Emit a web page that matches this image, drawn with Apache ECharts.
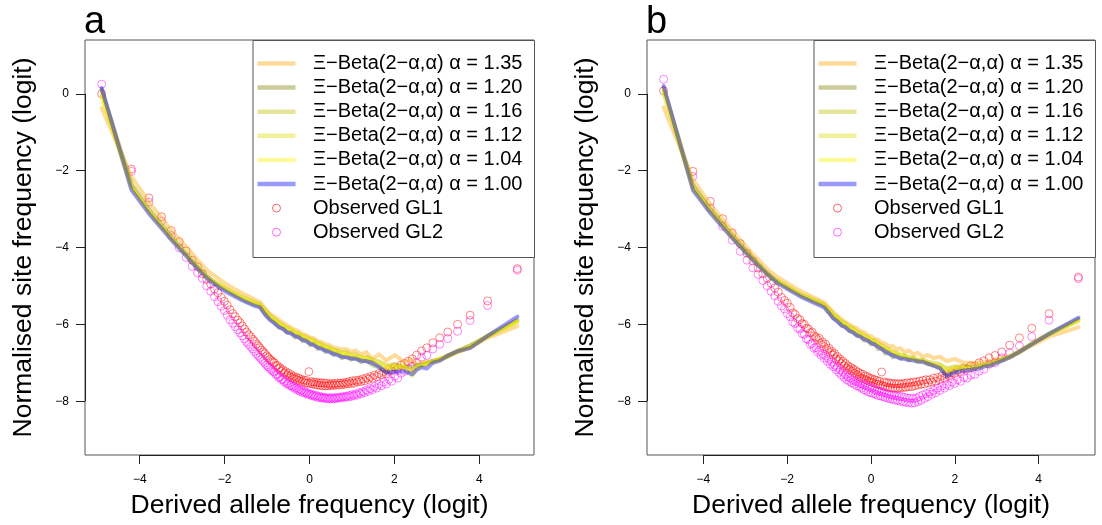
<!DOCTYPE html>
<html><head><meta charset="utf-8">
<script src="https://cdn.jsdelivr.net/npm/echarts@6/dist/echarts.min.js"></script>
<style>html,body{margin:0;padding:0;background:#fff}#c{width:1102px;height:525px}</style>
</head><body><div id="c"></div>
<script>
// ---- data ----
const sampleSizeA = 135;
const sampleSizeB = 142;
const panelLabels = ['a', 'b'];
const alphaLabels = ['1.35', '1.20', '1.16', '1.12', '1.04', '1.00'];
const xTicks = [-4, -2, 0, 2, 4];
const yTicks = [0, -2, -4, -6, -8];
const xTitle = 'Derived allele frequency (logit)';
const yTitle = 'Normalised site frequency (logit)';

// observed, one value per derived-allele count 1..n-1
const obsGL1_A = [
 0.00,-1.96,-2.71,-3.20,-3.56,-3.85,-4.09,-4.33,-4.50,-4.68,
 -4.83,-4.95,-5.08,-5.18,-5.30,-5.40,-5.50,-5.62,-5.72,-5.80,
 -5.89,-5.96,-6.04,-6.12,-6.20,-6.27,-6.32,-6.39,-6.44,-6.51,
 -6.56,-6.61,-6.67,-6.72,-6.76,-6.82,-6.86,-6.91,-6.94,-6.98,
 -7.00,-7.08,-7.07,-7.15,-7.13,-7.22,-7.18,-7.27,-7.23,-7.32,
 -7.27,-7.36,-7.31,-7.39,-7.35,-7.42,-7.38,-7.45,-7.40,-7.48,
 -7.43,-7.50,-7.45,-7.52,-7.46,-7.53,-7.23,-7.54,-7.49,-7.55,
 -7.50,-7.57,-7.51,-7.58,-7.52,-7.59,-7.52,-7.60,-7.53,-7.60,
 -7.53,-7.60,-7.55,-7.59,-7.54,-7.59,-7.54,-7.58,-7.53,-7.58,
 -7.53,-7.57,-7.52,-7.56,-7.51,-7.55,-7.49,-7.54,-7.47,-7.53,
 -7.46,-7.50,-7.45,-7.49,-7.42,-7.47,-7.39,-7.43,-7.36,-7.40,
 -7.32,-7.36,-7.28,-7.31,-7.23,-7.29,-7.18,-7.21,-7.11,-7.14,
 -7.06,-7.02,-6.96,-6.90,-6.80,-6.69,-6.61,-6.48,-6.35,-6.20,
 -6.00,-5.76,-5.39,-4.55];
const obsGL2_A = [
 0.25,-2.02,-2.82,-3.31,-3.69,-4.01,-4.26,-4.49,-4.66,-4.80,
 -5.00,-5.14,-5.28,-5.41,-5.53,-5.64,-5.76,-5.88,-5.97,-6.06,
 -6.14,-6.22,-6.30,-6.38,-6.46,-6.52,-6.58,-6.64,-6.70,-6.76,
 -6.81,-6.86,-6.91,-6.96,-7.01,-7.06,-7.10,-7.14,-7.18,-7.22,
 -7.24,-7.30,-7.31,-7.38,-7.37,-7.44,-7.43,-7.50,-7.48,-7.55,
 -7.53,-7.59,-7.58,-7.63,-7.61,-7.67,-7.65,-7.71,-7.68,-7.74,
 -7.71,-7.77,-7.74,-7.79,-7.77,-7.82,-7.79,-7.84,-7.82,-7.86,
 -7.84,-7.88,-7.85,-7.90,-7.87,-7.91,-7.89,-7.92,-7.90,-7.93,
 -7.91,-7.94,-7.91,-7.94,-7.91,-7.94,-7.91,-7.93,-7.90,-7.92,
 -7.89,-7.91,-7.88,-7.90,-7.87,-7.89,-7.85,-7.88,-7.83,-7.86,
 -7.81,-7.84,-7.78,-7.81,-7.75,-7.78,-7.71,-7.74,-7.67,-7.70,
 -7.62,-7.66,-7.56,-7.60,-7.50,-7.55,-7.43,-7.48,-7.35,-7.40,
 -7.27,-7.22,-7.16,-7.10,-7.00,-6.86,-6.81,-6.64,-6.52,-6.37,
 -6.18,-5.90,-5.51,-4.59];
const obsGL1_B = [
 0.08,-2.02,-2.80,-3.25,-3.62,-3.90,-4.15,-4.35,-4.53,-4.68,
 -4.80,-4.93,-5.05,-5.16,-5.30,-5.38,-5.45,-5.56,-5.70,-5.74,
 -5.85,-5.88,-5.98,-6.00,-6.10,-6.12,-6.22,-6.20,-6.30,-6.33,
 -6.40,-6.36,-6.50,-6.46,-6.58,-6.52,-6.66,-6.62,-6.74,-6.70,
 -6.80,-6.76,-6.90,-6.84,-6.95,-6.90,-7.02,-6.96,-7.08,-7.02,
 -7.14,-7.08,-7.18,-7.12,-7.22,-7.16,-7.27,-7.20,-7.32,-7.24,
 -7.36,-7.28,-7.40,-7.30,-7.42,-7.34,-7.45,-7.36,-7.48,-7.40,
 -7.50,-7.42,-7.52,-7.44,-7.55,-7.46,-7.56,-7.48,-7.58,-7.24,
 -7.60,-7.50,-7.62,-7.52,-7.64,-7.52,-7.65,-7.54,-7.66,-7.54,
 -7.66,-7.55,-7.66,-7.54,-7.65,-7.55,-7.64,-7.54,-7.64,-7.52,
 -7.62,-7.52,-7.62,-7.50,-7.60,-7.50,-7.58,-7.48,-7.56,-7.46,
 -7.55,-7.44,-7.52,-7.44,-7.50,-7.40,-7.48,-7.38,-7.44,-7.34,
 -7.40,-7.30,-7.34,-7.26,-7.28,-7.20,-7.24,-7.15,-7.16,-7.08,
 -7.08,-7.00,-6.95,-6.87,-6.81,-6.72,-6.54,-6.35,-6.10,-5.72,
 -4.77];
const obsGL2_B = [
 0.38,-2.15,-2.97,-3.45,-3.81,-4.10,-4.33,-4.53,-4.70,-4.86,
 -5.00,-5.14,-5.26,-5.40,-5.52,-5.60,-5.72,-5.80,-5.94,-5.98,
 -6.10,-6.12,-6.24,-6.26,-6.38,-6.40,-6.52,-6.50,-6.62,-6.60,
 -6.72,-6.68,-6.80,-6.76,-6.88,-6.82,-6.96,-6.90,-7.04,-6.98,
 -7.10,-7.06,-7.18,-7.12,-7.25,-7.18,-7.32,-7.24,-7.38,-7.30,
 -7.44,-7.36,-7.48,-7.40,-7.52,-7.44,-7.56,-7.48,-7.60,-7.50,
 -7.62,-7.54,-7.66,-7.56,-7.70,-7.58,-7.72,-7.62,-7.76,-7.64,
 -7.78,-7.66,-7.80,-7.70,-7.82,-7.72,-7.85,-7.74,-7.86,-7.76,
 -7.88,-7.78,-7.90,-7.80,-7.92,-7.82,-7.94,-7.84,-7.95,-7.85,
 -7.97,-7.86,-7.98,-7.88,-8.00,-7.88,-8.02,-7.90,-8.03,-7.92,
 -8.04,-7.92,-8.05,-7.93,-8.04,-7.92,-8.01,-7.88,-7.98,-7.84,
 -7.93,-7.80,-7.88,-7.76,-7.82,-7.72,-7.78,-7.66,-7.72,-7.60,
 -7.66,-7.56,-7.60,-7.50,-7.54,-7.44,-7.48,-7.38,-7.40,-7.32,
 -7.30,-7.22,-7.17,-7.04,-7.00,-6.87,-6.75,-6.56,-6.32,-5.89,
 -4.81];

// model expectations at selected derived-allele counts
const modelCountsA = [1,2,3,4,5,6,7,8,9,10,11,12,
 14,17,20,23,26,29,32,35,38,41,44,47,50,53,56,59,62,65,68,71,74,77,80,83,86,89,92,95,98,101,104,107,110,113,116,119,122,
 124,125,126,127,128,129,130,131,132,133,134];
const modelA_135 = [-0.37,-2.15,-2.82,-3.22,-3.55,-3.78,-3.98,-4.16,-4.32,-4.46,-4.58,-4.67,
 -4.80,-4.97,-5.09,-5.19,-5.27,-5.35,-5.42,-5.58,-5.72,-5.80,-5.88,-5.96,-6.02,-6.08,-6.14,-6.18,-6.26,-6.28,-6.34,-6.36,-6.44,-6.46,-6.52,-6.54,-6.60,-6.62,-6.66,-6.64,-6.72,-6.68,-6.78,-6.72,-6.90,-6.78,-6.94,-6.80,-6.98,
 -6.92,-7.05,-6.98,-6.98,-6.95,-6.90,-6.82,-6.72,-6.60,-6.35,-6.05];
const modelA_120 = [0.12,-2.35,-3.00,-3.40,-3.71,-3.95,-4.15,-4.33,-4.49,-4.62,-4.74,-4.83,
 -4.97,-5.12,-5.24,-5.34,-5.43,-5.48,-5.53,-5.72,-5.86,-5.95,-6.08,-6.10,-6.22,-6.20,-6.34,-6.30,-6.44,-6.40,-6.54,-6.50,-6.64,-6.58,-6.72,-6.66,-6.80,-6.74,-6.88,-6.82,-6.92,-6.86,-6.98,-6.94,-7.06,-7.12,-7.24,-7.14,-7.10,
 -7.12,-7.05,-7.06,-7.02,-6.95,-6.92,-6.82,-6.70,-6.55,-6.30,-5.88];
const modelA_116 = [0.05,-2.38,-3.03,-3.43,-3.73,-3.97,-4.16,-4.34,-4.50,-4.63,-4.75,-4.84,
 -4.94,-5.08,-5.20,-5.29,-5.36,-5.42,-5.48,-5.62,-5.76,-5.86,-5.94,-6.02,-6.08,-6.14,-6.20,-6.24,-6.30,-6.34,-6.38,-6.42,-6.48,-6.52,-6.58,-6.60,-6.66,-6.68,-6.74,-6.72,-6.80,-6.78,-6.86,-6.84,-6.92,-6.96,-7.06,-7.04,-7.08,
 -7.20,-7.10,-7.05,-7.00,-6.96,-6.90,-6.80,-6.68,-6.55,-6.30,-5.92];
const modelA_112 = [-0.05,-2.42,-3.06,-3.45,-3.76,-3.99,-4.18,-4.36,-4.51,-4.64,-4.76,-4.85,
 -4.95,-5.09,-5.21,-5.30,-5.37,-5.44,-5.49,-5.64,-5.78,-5.87,-5.96,-6.04,-6.09,-6.16,-6.21,-6.26,-6.31,-6.36,-6.40,-6.44,-6.50,-6.54,-6.58,-6.62,-6.66,-6.71,-6.74,-6.76,-6.80,-6.82,-6.88,-6.86,-6.94,-7.00,-7.10,-7.06,-7.14,
 -7.34,-7.15,-7.08,-7.02,-6.98,-6.92,-6.84,-6.70,-6.58,-6.32,-5.94];
const modelA_104 = [-0.10,-2.45,-3.08,-3.47,-3.78,-4.01,-4.20,-4.38,-4.53,-4.66,-4.78,-4.87,
 -4.96,-5.11,-5.22,-5.32,-5.39,-5.46,-5.51,-5.66,-5.80,-5.89,-5.98,-6.04,-6.11,-6.16,-6.22,-6.26,-6.32,-6.36,-6.42,-6.46,-6.51,-6.56,-6.60,-6.64,-6.68,-6.72,-6.76,-6.78,-6.82,-6.84,-6.88,-6.90,-6.96,-7.02,-7.14,-7.12,-7.11,
 -7.22,-7.12,-7.08,-7.05,-6.98,-6.92,-6.84,-6.72,-6.60,-6.30,-5.92];
const modelA_100 = [0.15,-2.50,-3.12,-3.50,-3.80,-4.03,-4.22,-4.40,-4.55,-4.68,-4.80,-4.88,
 -5.02,-5.17,-5.28,-5.38,-5.45,-5.52,-5.56,-5.74,-5.88,-5.97,-6.06,-6.12,-6.20,-6.24,-6.30,-6.34,-6.40,-6.44,-6.50,-6.54,-6.60,-6.64,-6.68,-6.72,-6.76,-6.80,-6.84,-6.86,-6.88,-6.90,-6.94,-6.96,-7.00,-7.10,-7.26,-7.24,-7.22,
 -7.30,-7.18,-7.12,-7.15,-7.00,-6.95,-6.82,-6.70,-6.62,-6.30,-5.80];

const modelCountsB = [1,2,3,4,5,6,7,8,9,10,11,12,
 14,17,20,23,26,29,32,35,38,41,44,47,50,53,56,59,62,65,68,71,74,77,80,83,86,89,92,95,98,101,104,107,110,113,116,119,122,125,128,
 130,131,132,133,134,135,136,137,138,139,140,141];
const modelB_135 = [-0.35,-2.23,-2.88,-3.26,-3.57,-3.80,-4.00,-4.17,-4.31,-4.44,-4.55,-4.65,
 -4.78,-4.93,-5.05,-5.15,-5.23,-5.30,-5.37,-5.43,-5.56,-5.68,-5.78,-5.86,-5.94,-6.00,-6.06,-6.10,-6.18,-6.20,-6.28,-6.30,-6.38,-6.40,-6.48,-6.50,-6.58,-6.56,-6.66,-6.62,-6.72,-6.68,-6.78,-6.74,-6.84,-6.80,-6.88,-6.84,-6.96,-6.90,-7.00,
 -7.00,-7.02,-6.98,-7.00,-6.95,-6.92,-6.88,-6.82,-6.72,-6.55,-6.32,-6.08];
const modelB_120 = [0.15,-2.38,-3.00,-3.38,-3.68,-3.92,-4.11,-4.28,-4.42,-4.55,-4.66,-4.75,
 -4.90,-5.04,-5.16,-5.26,-5.34,-5.40,-5.46,-5.52,-5.68,-5.84,-5.90,-6.04,-6.06,-6.18,-6.20,-6.30,-6.30,-6.42,-6.40,-6.52,-6.50,-6.64,-6.62,-6.76,-6.72,-6.86,-6.80,-6.90,-6.84,-6.94,-6.88,-6.98,-6.94,-7.04,-7.06,-7.14,-7.32,-7.20,-7.14,
 -7.12,-7.10,-7.10,-7.06,-7.04,-6.98,-6.92,-6.84,-6.70,-6.50,-6.24,-5.86];
const modelB_116 = [0.08,-2.42,-3.03,-3.41,-3.71,-3.94,-4.13,-4.30,-4.44,-4.57,-4.68,-4.77,
 -4.88,-5.02,-5.14,-5.24,-5.30,-5.36,-5.42,-5.48,-5.60,-5.74,-5.82,-5.92,-5.98,-6.06,-6.10,-6.18,-6.22,-6.30,-6.32,-6.40,-6.42,-6.50,-6.54,-6.62,-6.64,-6.72,-6.74,-6.80,-6.80,-6.86,-6.86,-6.92,-6.92,-6.98,-7.00,-7.04,-7.14,-7.10,-7.08,
 -7.10,-7.12,-7.08,-7.06,-7.02,-6.98,-6.92,-6.84,-6.70,-6.52,-6.26,-5.90];
const modelB_112 = [0.00,-2.45,-3.05,-3.43,-3.73,-3.96,-4.15,-4.31,-4.45,-4.58,-4.69,-4.78,
 -4.89,-5.03,-5.15,-5.25,-5.31,-5.38,-5.44,-5.50,-5.62,-5.76,-5.84,-5.94,-6.00,-6.08,-6.12,-6.20,-6.24,-6.30,-6.34,-6.40,-6.44,-6.50,-6.56,-6.62,-6.66,-6.72,-6.76,-6.80,-6.82,-6.86,-6.88,-6.92,-6.94,-6.98,-7.04,-7.06,-7.18,-7.10,-7.14,
 -7.15,-7.12,-7.10,-7.05,-7.08,-7.00,-6.94,-6.86,-6.74,-6.50,-6.26,-5.92];
const modelB_104 = [0.10,-2.48,-3.08,-3.45,-3.75,-3.97,-4.16,-4.32,-4.46,-4.59,-4.70,-4.79,
 -4.90,-5.04,-5.16,-5.26,-5.33,-5.39,-5.45,-5.51,-5.64,-5.78,-5.86,-5.96,-6.02,-6.09,-6.14,-6.21,-6.25,-6.32,-6.36,-6.42,-6.46,-6.52,-6.58,-6.64,-6.68,-6.74,-6.78,-6.82,-6.84,-6.88,-6.90,-6.93,-6.96,-7.00,-7.06,-7.10,-7.22,-7.16,-7.14,
 -7.16,-7.14,-7.12,-7.08,-7.05,-7.00,-6.94,-6.86,-6.72,-6.52,-6.26,-5.90];
const modelB_100 = [0.21,-2.51,-3.10,-3.47,-3.76,-3.98,-4.17,-4.33,-4.47,-4.59,-4.70,-4.79,
 -4.94,-5.08,-5.20,-5.30,-5.37,-5.44,-5.50,-5.56,-5.70,-5.84,-5.93,-6.02,-6.08,-6.16,-6.21,-6.28,-6.32,-6.38,-6.42,-6.48,-6.52,-6.58,-6.64,-6.70,-6.76,-6.80,-6.85,-6.88,-6.90,-6.92,-6.94,-6.96,-6.98,-7.02,-7.08,-7.14,-7.35,-7.25,-7.20,
 -7.18,-7.16,-7.15,-7.10,-7.08,-7.02,-6.95,-6.86,-6.72,-6.52,-6.25,-5.83];

// ---- styles / layout ----
const FONT = 'Liberation Sans, Arial, Helvetica, sans-serif';
const lineColors = ['rgba(255,165,0,0.4)', 'rgba(128,128,0,0.4)', 'rgba(190,190,0,0.4)',
                    'rgba(220,220,0,0.4)', 'rgba(245,245,0,0.4)', 'rgba(0,0,255,0.4)'];
const drawOrder = [0, 1, 2, 3, 4, 5]; // legend order, alpha 1.00 drawn last
const gl1Color = 'rgba(255,0,0,0.6)';
const gl2Color = 'rgba(255,0,255,0.6)';
const boxColor = '#555';

const panels = [
  {n: sampleSizeA, counts: modelCountsA, models: [modelA_135, modelA_120, modelA_116, modelA_112, modelA_104, modelA_100],
   gl1: obsGL1_A, gl2: obsGL2_A, left: 85, width: 449, xExt: 5.29, yTitleX: 24},
  {n: sampleSizeB, counts: modelCountsB, models: [modelB_135, modelB_120, modelB_116, modelB_112, modelB_104, modelB_100],
   gl1: obsGL1_B, gl2: obsGL2_B, left: 647, width: 448, xExt: 5.345, yTitleX: 586}
];
const TOP = 40, HEIGHT = 415;

function logit(count, n) { return Math.log(count / (n - count)); }
const minus = v => String(v).replace('-', '\u2212');

const grids = [], xAxes = [], yAxes = [], series = [], graphics = [];
panels.forEach((p, pi) => {
  grids.push({left: p.left, top: TOP, width: p.width, height: HEIGHT, show: true,
              borderColor: boxColor, borderWidth: 1, backgroundColor: 'transparent'});
  xAxes.push({type: 'value', gridIndex: pi, min: -p.xExt, max: p.xExt, position: 'bottom',
    splitLine: {show: false}, axisLine: {show: false, onZero: false},
    axisTick: {show: true, length: 9, customValues: xTicks, lineStyle: {color: '#222'}},
    axisLabel: {customValues: xTicks, formatter: minus, margin: 19, fontSize: 12, color: '#000', fontFamily: FONT}});
  yAxes.push({type: 'value', gridIndex: pi, min: -9.4, max: 1.4, position: 'left',
    splitLine: {show: false}, axisLine: {show: false, onZero: false},
    axisTick: {show: true, length: 9, customValues: yTicks, lineStyle: {color: '#222'}},
    axisLabel: {customValues: yTicks, formatter: minus, margin: 16, fontSize: 12, color: '#000', fontFamily: FONT}});

  drawOrder.forEach(m => {
    const vals = p.models[m];
    const data = [];
    for (let i = 0; i < Math.min(vals.length, p.counts.length); i++) data.push([logit(p.counts[i], p.n), vals[i]]);
    series.push({type: 'line', name: alphaLabels[m], xAxisIndex: pi, yAxisIndex: pi, data,
      showSymbol: false, symbol: 'none', silent: true,
      lineStyle: {color: lineColors[m], width: 4, cap: 'round', join: 'round'}});
  });
  [[p.gl1, gl1Color, 'GL1'], [p.gl2, gl2Color, 'GL2']].forEach(([vals, col, nm]) => {
    series.push({type: 'scatter', name: nm, xAxisIndex: pi, yAxisIndex: pi, silent: true,
      data: vals.map((v, i) => [logit(i + 1, p.n), v]),
      symbol: 'circle', symbolSize: 8,
      itemStyle: {color: 'rgba(0,0,0,0)', borderColor: col, borderWidth: 1}});
  });

  // panel letter and axis titles
  const right = p.left + p.width;
  const cx = p.left + p.width / 2;
  graphics.push({type: 'text', left: p.left - 1, top: 4, silent: true,
    style: {text: panelLabels[pi], font: '38px ' + FONT, fill: '#000'}});
  graphics.push({type: 'text', x: cx, y: 506, silent: true,
    style: {text: xTitle, font: '26.5px ' + FONT, fill: '#000', align: 'center', verticalAlign: 'middle'}});
  graphics.push({type: 'text', x: p.yTitleX, y: TOP + HEIGHT / 2, rotation: Math.PI / 2, silent: true,
    style: {text: yTitle, font: '26.5px ' + FONT, fill: '#000', align: 'center', verticalAlign: 'middle'}});
  // axis lines between first and last tick (as drawn by R)
  graphics.push({type: 'line', silent: true, z: 5,
    shape: {x1: p.left + p.width * (xTicks[0] + p.xExt) / (2 * p.xExt), y1: TOP + HEIGHT + 0.5,
            x2: p.left + p.width * (xTicks[xTicks.length - 1] + p.xExt) / (2 * p.xExt), y2: TOP + HEIGHT + 0.5},
    style: {stroke: '#222', lineWidth: 1}});
  graphics.push({type: 'line', silent: true, z: 5,
    shape: {x1: p.left + 0.5, y1: TOP + HEIGHT * (1.4 - yTicks[0]) / 10.8,
            x2: p.left + 0.5, y2: TOP + HEIGHT * (1.4 - yTicks[yTicks.length - 1]) / 10.8},
    style: {stroke: '#222', lineWidth: 1}});

  // legend box
  const lx = right - 281.5;
  graphics.push({type: 'rect', silent: true, z: 10,
    shape: {x: lx + 0.5, y: TOP + 0.5, width: right - lx, height: 217},
    style: {fill: '#fff', stroke: boxColor, lineWidth: 1}});
  const rowY = k => 63.5 + k * 24.1;
  alphaLabels.forEach((a, k) => {
    graphics.push({type: 'line', silent: true, z: 11,
      shape: {x1: lx + 5, y1: rowY(k), x2: lx + 43, y2: rowY(k)},
      style: {stroke: lineColors[k], lineWidth: 4.5}});
    graphics.push({type: 'text', silent: true, z: 11, x: lx + 60.5, y: rowY(k),
      style: {text: '\u039E\u2212Beta(2\u2212\u03B1,\u03B1) \u03B1 = ' + a, font: '20px ' + FONT, fill: '#000', verticalAlign: 'middle'}});
  });
  [['Observed GL1', gl1Color], ['Observed GL2', gl2Color]].forEach(([t, col], j) => {
    const y = rowY(6 + j);
    graphics.push({type: 'circle', silent: true, z: 11, shape: {cx: lx + 24, cy: y, r: 4},
      style: {fill: 'none', stroke: col, lineWidth: 1}});
    graphics.push({type: 'text', silent: true, z: 11, x: lx + 60.5, y: y,
      style: {text: t, font: '20px ' + FONT, fill: '#000', verticalAlign: 'middle'}});
  });
});

const chart = echarts.init(document.getElementById('c'), null, {renderer: 'canvas'});
chart.setOption({
  backgroundColor: '#fff', animation: false,
  grid: grids, xAxis: xAxes, yAxis: yAxes, series, graphic: graphics
});
</script></body></html>
